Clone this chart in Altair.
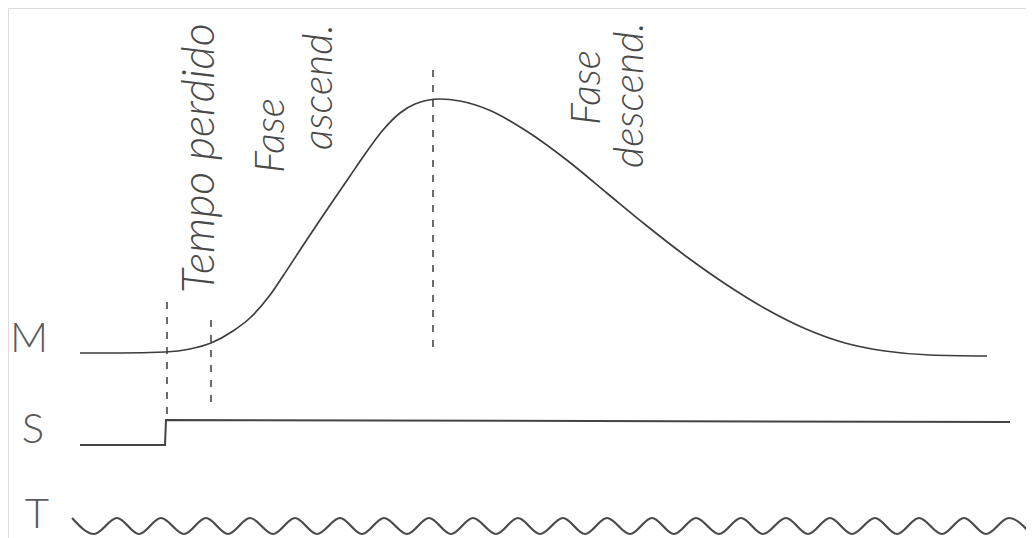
import altair as alt
import pandas as pd

# --- M trace (muscle contraction curve) ---
m_x = [80, 120, 165, 190, 211, 233, 251, 270, 283, 304, 322, 337, 350, 363, 383, 400, 415, 440,
       460, 489, 528, 568, 608, 647, 687, 727, 766, 806, 845, 885, 930, 987]
m_y = [353, 353, 352, 349, 343, 331, 317, 295, 276, 244, 217, 195, 176, 157, 130, 113, 104, 99,
       101, 110, 132, 161, 194, 226, 257, 285, 309, 329, 343, 351, 355, 356]

# --- S trace (stimulus step) ---
s_x = [80, 165, 166, 1010]
s_y = [445, 445, 420, 422]

# --- T trace (time signal): alternating crests and troughs ---
t_crest_x = [72, 117, 161, 206, 250, 295, 340, 384, 429, 473, 518, 563, 607, 652, 696, 741,
             786, 830, 875, 919, 964, 1009]
t_trough_x = [94, 139, 184, 228, 273, 317, 362, 407, 451, 496, 540, 585, 630, 674, 719, 763,
              808, 852, 897, 942, 986, 1031]
t_crest_y = 518
t_trough_y = 534

# --- dashed guide lines ---
guide_x = [167, 211, 433]
guide_top = [302, 320, 70]
guide_bottom = [419, 402, 350]

# --- rotated phase labels ---
latent_text = ["Tempo perdido"]
latent_x = [214]
latent_y = [293]
phase_text = ["Fase", "ascend.", "Fase", "descend."]
phase_x = [284, 332, 600, 643]
phase_y = [173, 150, 125, 168]

# --- trace names ---
trace_names = ["M", "S", "T"]
trace_label_x = [29, 33, 37]
trace_label_y = [352, 443, 528]

# ---------------------------------------------------------------
m_df = pd.DataFrame({"x": m_x, "y": m_y, "i": range(len(m_x))})
s_df = pd.DataFrame({"x": s_x, "y": s_y, "i": range(len(s_x))})
t_pts = sorted([(x, t_crest_y) for x in t_crest_x] + [(x, t_trough_y) for x in t_trough_x])
t_df = pd.DataFrame({"x": [p[0] for p in t_pts], "y": [p[1] for p in t_pts]})
t_df["i"] = range(len(t_df))
g_df = pd.DataFrame({"x": guide_x, "y": guide_top, "y2": guide_bottom})
l_df = pd.DataFrame({"x": latent_x, "y": latent_y, "t": latent_text})
p_df = pd.DataFrame({"x": phase_x, "y": phase_y, "t": phase_text})
n_df = pd.DataFrame({"x": trace_label_x, "y": trace_label_y, "t": trace_names})

xs = alt.Scale(domain=[8, 1026], nice=False, zero=False)
ys = alt.Scale(domain=[8, 538], nice=False, zero=False, reverse=True)
X = alt.X("x:Q", scale=xs, axis=None)
Y = alt.Y("y:Q", scale=ys, axis=None)

ink = "#3d3d3d"
text_style = dict(angle=270, align="left", baseline="alphabetic", fontStyle="italic",
                  font="Lato", fontWeight=300, color="#4a4a4a")

m_line = alt.Chart(m_df).mark_line(color=ink, strokeWidth=1.7, interpolate="monotone").encode(
    x=X, y=Y, order="i:Q")
s_line = alt.Chart(s_df).mark_line(color="#444444", strokeWidth=2).encode(
    x=X, y=Y, order="i:Q")
t_line = alt.Chart(t_df).mark_line(color="#4a4a4a", strokeWidth=2.2, interpolate="monotone").encode(
    x=X, y=Y, order="i:Q")
guides = alt.Chart(g_df).mark_rule(color=ink, strokeWidth=1.5, strokeDash=[7, 8]).encode(
    x=X, y=Y, y2="y2:Q")
latent = alt.Chart(l_df).mark_text(fontSize=45, **text_style).encode(x=X, y=Y, text="t:N")
phases = alt.Chart(p_df).mark_text(fontSize=41, **text_style).encode(x=X, y=Y, text="t:N")
names = alt.Chart(n_df).mark_text(
    align="center", baseline="alphabetic", font="Lato", fontWeight=300,
    fontSize=42, color="#5a5a5a").encode(x=X, y=Y, text="t:N")

chart = alt.layer(m_line, s_line, t_line, guides, latent, phases, names).properties(
    width=1018, height=530, padding=0,
    autosize=alt.AutoSizeParams(type="none"),
).configure_view(stroke=None).configure(background="white")

chart.save("out.html", embed_options={"renderer": "svg", "actions": False})
